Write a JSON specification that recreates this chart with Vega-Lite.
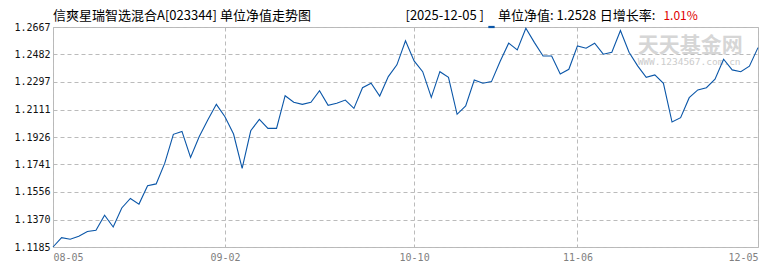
{
  "$schema": "https://vega.github.io/schema/vega-lite/v6.json",
  "width": 705,
  "height": 220,
  "autosize": "none",
  "padding": {"left": 53, "top": 27, "right": 12, "bottom": 23},
  "background": "white",
  "config": {
    "view": {"stroke": "#b8b8b8", "strokeWidth": 1},
    "font": "Noto Sans CJK SC"
  },
  "datasets": {
    "nav": [
      {"date": "2025-08-05", "nav": 1.1185},
      {"date": "2025-08-06", "nav": 1.1248},
      {"date": "2025-08-07", "nav": 1.1237},
      {"date": "2025-08-08", "nav": 1.1257},
      {"date": "2025-08-11", "nav": 1.1289},
      {"date": "2025-08-12", "nav": 1.1298},
      {"date": "2025-08-13", "nav": 1.1399},
      {"date": "2025-08-14", "nav": 1.1320},
      {"date": "2025-08-15", "nav": 1.1448},
      {"date": "2025-08-18", "nav": 1.1512},
      {"date": "2025-08-19", "nav": 1.1474},
      {"date": "2025-08-20", "nav": 1.1598},
      {"date": "2025-08-21", "nav": 1.1610},
      {"date": "2025-08-22", "nav": 1.1750},
      {"date": "2025-08-25", "nav": 1.1944},
      {"date": "2025-08-26", "nav": 1.1964},
      {"date": "2025-08-27", "nav": 1.1788},
      {"date": "2025-08-28", "nav": 1.1928},
      {"date": "2025-08-29", "nav": 1.2040},
      {"date": "2025-09-01", "nav": 1.2146},
      {"date": "2025-09-02", "nav": 1.2063},
      {"date": "2025-09-03", "nav": 1.1946},
      {"date": "2025-09-04", "nav": 1.1714},
      {"date": "2025-09-05", "nav": 1.1968},
      {"date": "2025-09-08", "nav": 1.2045},
      {"date": "2025-09-09", "nav": 1.1984},
      {"date": "2025-09-10", "nav": 1.1984},
      {"date": "2025-09-11", "nav": 1.2204},
      {"date": "2025-09-12", "nav": 1.2160},
      {"date": "2025-09-15", "nav": 1.2146},
      {"date": "2025-09-16", "nav": 1.2160},
      {"date": "2025-09-17", "nav": 1.2238},
      {"date": "2025-09-18", "nav": 1.2139},
      {"date": "2025-09-19", "nav": 1.2153},
      {"date": "2025-09-22", "nav": 1.2175},
      {"date": "2025-09-23", "nav": 1.2119},
      {"date": "2025-09-24", "nav": 1.2258},
      {"date": "2025-09-25", "nav": 1.2288},
      {"date": "2025-09-26", "nav": 1.2202},
      {"date": "2025-09-29", "nav": 1.2333},
      {"date": "2025-09-30", "nav": 1.2412},
      {"date": "2025-10-09", "nav": 1.2574},
      {"date": "2025-10-10", "nav": 1.2439},
      {"date": "2025-10-13", "nav": 1.2366},
      {"date": "2025-10-14", "nav": 1.2193},
      {"date": "2025-10-15", "nav": 1.2366},
      {"date": "2025-10-16", "nav": 1.2328},
      {"date": "2025-10-17", "nav": 1.2079},
      {"date": "2025-10-20", "nav": 1.2135},
      {"date": "2025-10-21", "nav": 1.2310},
      {"date": "2025-10-22", "nav": 1.2288},
      {"date": "2025-10-23", "nav": 1.2299},
      {"date": "2025-10-24", "nav": 1.2434},
      {"date": "2025-10-27", "nav": 1.2558},
      {"date": "2025-10-28", "nav": 1.2513},
      {"date": "2025-10-29", "nav": 1.2659},
      {"date": "2025-10-30", "nav": 1.2562},
      {"date": "2025-10-31", "nav": 1.2472},
      {"date": "2025-11-03", "nav": 1.2472},
      {"date": "2025-11-04", "nav": 1.2351},
      {"date": "2025-11-05", "nav": 1.2382},
      {"date": "2025-11-06", "nav": 1.2540},
      {"date": "2025-11-07", "nav": 1.2524},
      {"date": "2025-11-10", "nav": 1.2558},
      {"date": "2025-11-11", "nav": 1.2484},
      {"date": "2025-11-12", "nav": 1.2497},
      {"date": "2025-11-13", "nav": 1.2643},
      {"date": "2025-11-14", "nav": 1.2497},
      {"date": "2025-11-17", "nav": 1.2405},
      {"date": "2025-11-18", "nav": 1.2328},
      {"date": "2025-11-19", "nav": 1.2344},
      {"date": "2025-11-20", "nav": 1.2288},
      {"date": "2025-11-21", "nav": 1.2027},
      {"date": "2025-11-24", "nav": 1.2056},
      {"date": "2025-11-25", "nav": 1.2191},
      {"date": "2025-11-26", "nav": 1.2243},
      {"date": "2025-11-27", "nav": 1.2258},
      {"date": "2025-11-28", "nav": 1.2315},
      {"date": "2025-12-01", "nav": 1.2450},
      {"date": "2025-12-02", "nav": 1.2378},
      {"date": "2025-12-03", "nav": 1.2366},
      {"date": "2025-12-04", "nav": 1.2403},
      {"date": "2025-12-05", "nav": 1.2528}
    ]
  },
  "data": {"name": "nav"},
  "encoding": {
    "x": {"field": "date", "type": "ordinal", "scale": {"type": "point", "padding": 0},
      "axis": {"values": ["2025-08-05", "2025-09-02", "2025-10-10", "2025-11-06", "2025-12-05"], "labelExpr": "slice(datum.label, 5)", "labelAngle": 0, "labelFlush": true, "labelOverlap": false, "labelColor": "#808080", "labelFont": "DejaVu Sans Mono", "labelFontSize": 10, "labelPadding": 5, "ticks": false, "domain": false, "grid": true, "gridColor": "#bbbbbb", "gridDash": [4, 3], "title": null}},
    "y": {"field": "nav", "type": "quantitative", "scale": {"domain": [1.1185, 1.2667], "nice": false, "zero": false},
      "axis": {"values": [1.1185, 1.137, 1.1556, 1.1741, 1.1926, 1.2111, 1.2297, 1.2482, 1.2667], "format": ".4f", "labelOverlap": false, "labelFont": "DejaVu Sans Mono", "labelFontSize": 10, "labelColor": "#111111", "labelPadding": 3, "ticks": false, "domain": false, "grid": true, "gridColor": "#bbbbbb", "gridDash": [4, 3], "title": null}}
  },
  "layer": [
    {"data": {"values": [{"date": "2025-11-17", "nav": 1.2540}]}, "mark": {"type": "text", "text": "天天基金网", "align": "left", "baseline": "middle", "font": "Noto Sans CJK SC", "fontSize": 21, "fontWeight": "bold", "color": "#d6d6d6"}},
    {"data": {"values": [{"date": "2025-11-17", "nav": 1.2432}]}, "mark": {"type": "text", "text": "WWW.1234567.com.cn", "align": "left", "baseline": "middle", "font": "DejaVu Sans Mono", "fontSize": 9.5, "color": "#cccccc"}},
    {"mark": {"type": "line", "color": "#0a56a8", "strokeWidth": 1.1}},
    {"data": {"values": [{"date": "2025-08-05", "nav": 1.2667}]}, "mark": {"type": "text", "text": "信爽星瑞智选混合A[023344] 单位净值走势图", "align": "left", "baseline": "middle", "font": "Noto Sans CJK SC", "fontSize": 13, "color": "#000000", "dy": -11}},
    {"data": {"values": [{"date": "2025-10-09", "nav": 1.2667}]}, "mark": {"type": "text", "text": "[2025-12-05 ]", "align": "left", "baseline": "middle", "font": "Noto Sans CJK SC", "fontSize": 13, "color": "#000000", "dy": -11}},
    {"data": {"values": [{"date": "2025-10-23", "nav": 1.2667}]}, "mark": {"type": "point", "shape": "M-1,-0.35H1V0.35H-1Z", "size": 40, "filled": true, "color": "#0a56a8", "opacity": 1, "dy": -11}},
    {"data": {"values": [{"date": "2025-10-24", "nav": 1.2667}]}, "mark": {"type": "text", "text": "单位净值: 1.2528", "align": "left", "baseline": "middle", "font": "Noto Sans CJK SC", "fontSize": 13, "color": "#000000", "dy": -11, "dx": -2}},
    {"data": {"values": [{"date": "2025-11-10", "nav": 1.2667}]}, "mark": {"type": "text", "text": "日增长率: ", "align": "left", "baseline": "middle", "font": "Noto Sans CJK SC", "fontSize": 13, "color": "#000000", "dy": -11, "dx": 5}},
    {"data": {"values": [{"date": "2025-11-20", "nav": 1.2667}]}, "mark": {"type": "text", "text": "1.01%", "align": "left", "baseline": "middle", "font": "Noto Sans CJK SC", "fontSize": 12, "color": "#e00000", "dy": -11}}
  ]
}
